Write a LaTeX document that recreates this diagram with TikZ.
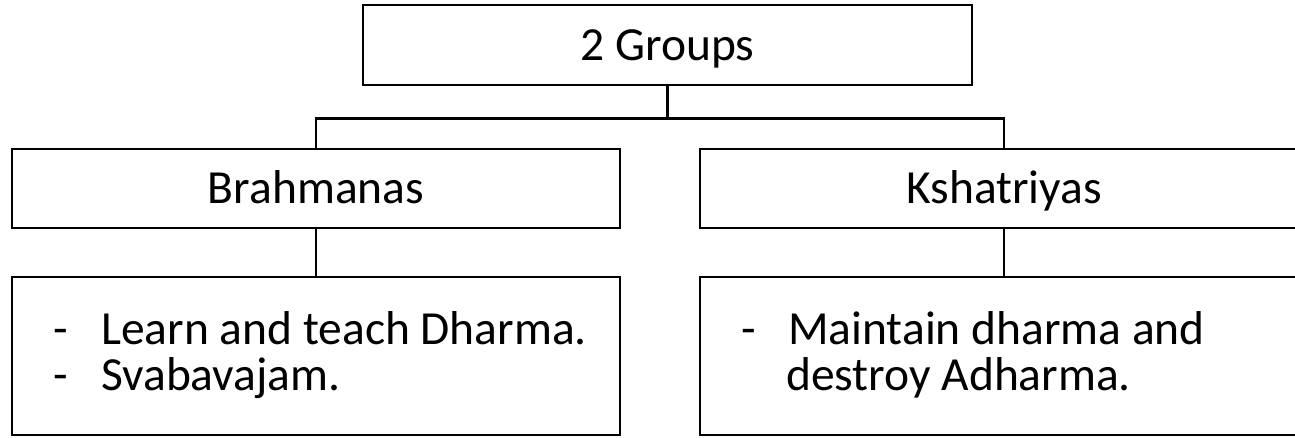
\documentclass[tikz,border=0pt]{standalone}
\usepackage{fontspec}
\setmainfont{Carlito}
\begin{document}
\begin{tikzpicture}[x=1pt,y=-1pt,
  box/.style={draw, line width=2.7pt, inner sep=0pt, font=\fontsize{47.5}{46}\selectfont, text height=30.5pt, text depth=0pt},
  txt/.style={anchor=base west, inner sep=0pt, font=\fontsize{47.5}{46}\selectfont},
  conn/.style={line width=2.7pt}]
\useasboundingbox (0,0) rectangle (1295,437);
\clip (0,0) rectangle (1295,437);
\node[box, minimum width=609pt, minimum height=80pt] (top) at (667.5,45) {2 Groups};
\node[box, minimum width=608pt, minimum height=79pt] (brah) at (316,188.5) {Brahmanas};
\node[box, minimum width=608pt, minimum height=79pt] (ksha) at (1004,188.5) {Kshatriyas};
\node[box, minimum width=608pt, minimum height=158pt] (lowl) at (316,356) {};
\node[box, minimum width=608pt, minimum height=158pt] (lowr) at (1004,356) {};
\node[txt] (dl1) at (53,344) {-};
\node[txt] (tl1) at (101,344) {Learn and teach Dharma.};
\node[txt] (dl2) at (53,390) {-};
\node[txt] (tl2) at (101,390) {Svabavajam.};
\node[txt] (dr1) at (741,344) {-};
\node[txt] (tr1) at (788,344) {Maintain dharma and};
\node[txt] (tr2) at (786,390) {destroy Adharma.};
\draw[conn] (top.south) -- ++(0,32) coordinate (j);
\draw[conn] (brah.north) |- (j) -| (ksha.north);
\draw[conn] (brah.south) -- (lowl.north);
\draw[conn] (ksha.south) -- (lowr.north);
\end{tikzpicture}
\end{document}
